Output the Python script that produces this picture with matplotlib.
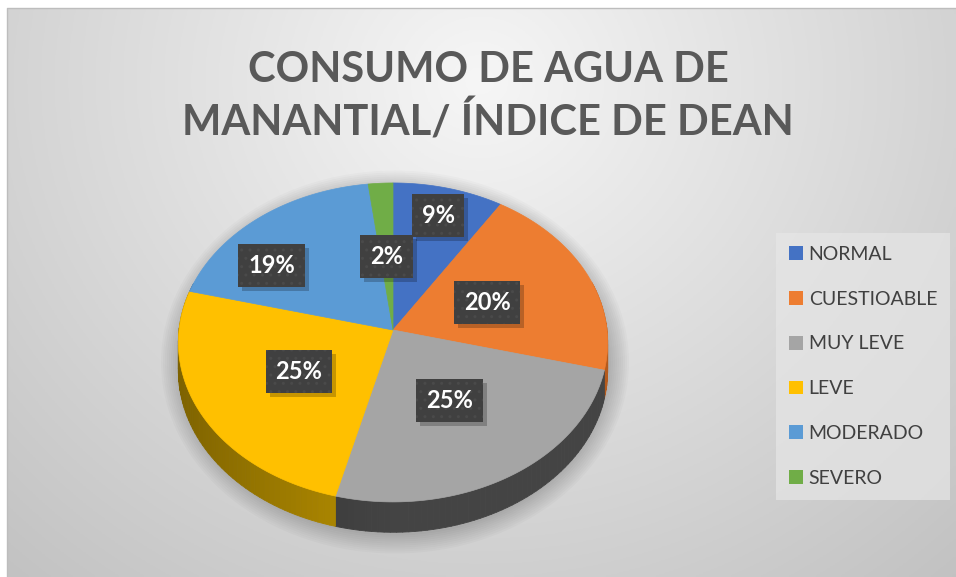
import numpy as np
import matplotlib
matplotlib.use("Agg")
import matplotlib.pyplot as plt
from matplotlib.patches import Polygon, Ellipse, Patch, Rectangle
from matplotlib.collections import PolyCollection
from matplotlib.colors import to_rgb

plt.rcParams['font.family'] = ['Lato', 'DejaVu Sans']

# data
categories = ["NORMAL", "CUESTIOABLE", "MUY LEVE", "LEVE", "MODERADO", "SEVERO"]
percent = [9, 20, 25, 25, 19, 2]
colors = ["#4472c4", "#ed7d31", "#a5a5a5", "#ffc000", "#5b9bd5", "#70ad47"]
side_colors = ["#2f5597", "#b55a1c", "#444444", "#b89000", "#3f7ab0", "#4e7d31"]
title = "CONSUMO DE AGUA DE\nMANANTIAL/ ÍNDICE DE DEAN"

# geometry of the tilted pie (pixel units)
CX, CY = 393, 330
A, B, K = 214, 158.5, 0.078
DEPTH = 28
label_r = [0.8, 0.48, 0.5, 0.5, 0.72, 0.48]
label_shift = [0, 0, 0, 0, -13, 0]


def project(u, v, depth=0.0):
    s = 1.0 / (1.0 + K * v)
    return CX + A * u * s, CY - B * v * s + depth * s


fig = plt.figure(figsize=(9.56, 5.77), dpi=100)
ax = fig.add_axes([0, 0, 1, 1])
ax.set_xlim(0, 956)
ax.set_ylim(577, 0)
ax.axis("off")

# background gradient of the chart area
gx, gy = np.meshgrid(np.linspace(7, 956, 300), np.linspace(8, 577, 200))
d = np.sqrt(((gx - 480) / 560) ** 2 + ((gy - 80) / 520) ** 2)
g = np.clip(0.965 - 0.16 * d, 0, 1)
ax.imshow(np.dstack([g, g, g]), extent=[7, 956, 577, 8], aspect="auto", zorder=0)
ax.plot([7, 7, 956], [577, 8, 8], color="#bdbdbd", lw=1, zorder=1)

# soft shadow below the pie
for i in range(10):
    ax.add_patch(Ellipse((CX + 2, CY + 32), 2 * A + 4 + i * 4, 2 * B + 30 + i * 4,
                         color="black", alpha=0.02, lw=0, zorder=2))

fractions = np.array(percent) / sum(percent)
bounds = np.concatenate([[0], np.cumsum(fractions)]) * 2 * np.pi

# side walls
quads, qcols = [], []
for i in range(len(percent)):
    th = np.linspace(bounds[i], bounds[i + 1], max(3, int(np.degrees(bounds[i + 1] - bounds[i]) / 1.5)))
    for t0, t1 in zip(th[:-1], th[1:]):
        u0, v0, u1, v1 = np.sin(t0), np.cos(t0), np.sin(t1), np.cos(t1)
        if v0 > 0.3 and v1 > 0.3:
            continue
        p = [project(u0, v0), project(u1, v1), project(u1, v1, DEPTH), project(u0, v0, DEPTH)]
        quads.append(p)
        f = 1 - 0.32 * max(0.0, -(u0 + u1) / 2)
        qcols.append(tuple(c * f for c in to_rgb(side_colors[i])))
ax.add_collection(PolyCollection(quads, facecolors=qcols, edgecolors=qcols, linewidths=0.6, zorder=3))

# top faces
wedges = []
for i in range(len(percent)):
    th = np.linspace(bounds[i], bounds[i + 1], 120)
    pts = [project(0, 0)] + [project(np.sin(t), np.cos(t)) for t in th]
    w = Polygon(pts, closed=True, facecolor=colors[i], edgecolor=colors[i], lw=0.5, zorder=4)
    ax.add_patch(w)
    wedges.append(w)

# data labels
labels = []
for i in range(len(percent)):
    mid = (bounds[i] + bounds[i + 1]) / 2 + np.radians(label_shift[i])
    x, y = project(label_r[i] * np.sin(mid), label_r[i] * np.cos(mid))
    t = ax.text(x, y, f"{percent[i]}%", color="white", fontsize=17, fontweight="bold",
                ha="center", va="center", zorder=6,
                bbox=dict(boxstyle="square,pad=0.42", facecolor="#404040", edgecolor="#4a4a4a",
                          hatch="..", lw=0))
    labels.append(t)

# drop shadows of the label boxes
fig.canvas.draw()
inv = ax.transData.inverted()
for t in labels:
    ext = t.get_bbox_patch().get_window_extent()
    (x0, y0), (x1, y1) = inv.transform([[ext.x0, ext.y0], [ext.x1, ext.y1]])
    ax.add_patch(Rectangle((min(x0, x1) + 4, min(y0, y1) + 4), abs(x1 - x0), abs(y1 - y0),
                           facecolor="black", alpha=0.22, lw=0, zorder=5))

# title
ax.text(488, 135, title, ha="center", va="baseline", fontsize=30, fontweight="bold",
        color="#595959", linespacing=1.32, zorder=6)

# legend
handles = [Patch(facecolor=c, edgecolor="none") for c in colors]
leg = ax.legend(handles, categories, loc="upper left", bbox_to_anchor=(776, 233),
                bbox_transform=ax.transData, fontsize=14, frameon=True, fancybox=False,
                borderaxespad=0, borderpad=0.66, labelspacing=1.43, handlelength=0.72,
                handleheight=0.72, handletextpad=0.3, labelcolor="#404040")
leg.get_frame().set_facecolor("#e6e6e6")
leg.get_frame().set_alpha(0.7)
leg.get_frame().set_linewidth(0)
leg.set_zorder(7)

fig.savefig("out.png", dpi=100)
